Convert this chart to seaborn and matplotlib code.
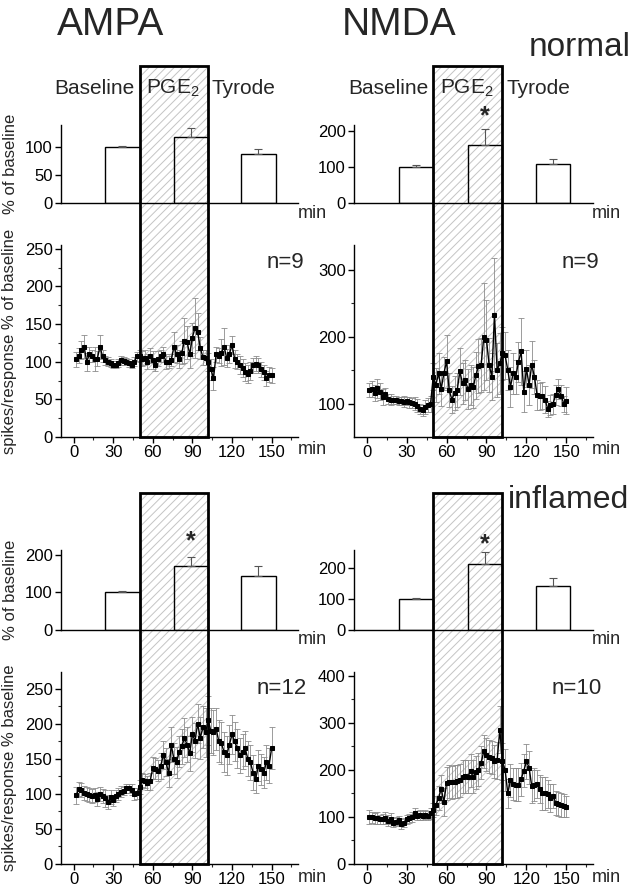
import numpy as np
import seaborn as sns
import matplotlib
matplotlib.use("Agg")
import matplotlib.pyplot as plt
from matplotlib.patches import Rectangle

# ---- data ----
# time series: one point every 2 min, starting at 2 min
ampa_normal = [103, 108, 115, 120, 100, 110, 108, 103, 104, 120, 107, 102, 100, 98, 96, 96, 98, 102, 101, 100,
               98, 96, 100, 107, 108, 104, 105, 100, 108, 102, 96, 104, 108, 110, 100, 100, 102, 120, 110, 103,
               112, 128, 126, 110, 132, 145, 140, 118, 106, 105, 100, 90, 78, 110, 108, 112, 120, 105, 110, 122,
               104, 100, 96, 92, 86, 84, 88, 95, 97, 95, 90, 86, 78, 83, 82]
ampa_normal_err = [10, 10, 12, 15, 12, 10, 8, 16, 10, 16, 8, 6, 6, 5, 5, 5, 5, 6, 5, 5,
                   5, 5, 6, 6, 8, 10, 10, 10, 10, 12, 8, 10, 8, 10, 10, 8, 8, 20, 12, 12,
                   15, 30, 22, 18, 20, 40, 25, 15, 10, 10, 12, 14, 15, 10, 10, 18, 25, 12, 12, 12,
                   12, 10, 12, 12, 12, 12, 12, 10, 10, 10, 10, 10, 10, 10, 10]

nmda_normal = [120, 122, 116, 123, 118, 110, 115, 107, 106, 105, 105, 104, 104, 103, 104, 102, 101, 100, 97, 92,
               90, 95, 98, 100, 140, 128, 145, 122, 145, 163, 120, 106, 116, 120, 148, 130, 135, 122, 128, 124,
               142, 156, 158, 200, 195, 158, 140, 233, 150, 160, 175, 172, 150, 125, 145, 140, 162, 178, 118, 152,
               128, 158, 140, 113, 111, 112, 106, 92, 98, 100, 113, 122, 112, 100, 104]
nmda_normal_err = [10, 12, 12, 14, 12, 12, 8, 8, 8, 6, 6, 6, 6, 8, 6, 8, 8, 10, 10, 8,
                   8, 10, 10, 12, 20, 25, 30, 25, 25, 40, 25, 20, 25, 25, 35, 30, 30, 30, 30, 30,
                   35, 40, 40, 80, 60, 40, 35, 85, 40, 45, 40, 35, 30, 30, 30, 25, 30, 50, 30, 28,
                   30, 35, 25, 22, 20, 20, 20, 12, 15, 15, 15, 15, 15, 12, 20]

ampa_inflamed = [98, 107, 106, 101, 100, 98, 97, 99, 93, 100, 97, 94, 88, 95, 91, 97, 100, 103, 104, 108,
                 108, 106, 100, 101, 110, 120, 118, 115, 118, 137, 136, 133, 140, 155, 145, 130, 170, 150, 145, 160,
                 168, 180, 170, 158, 185, 176, 200, 180, 195, 188, 205, 190, 188, 193, 175, 172, 160, 155, 170, 185,
                 175, 165, 155, 160, 165, 150, 145, 130, 122, 140, 135, 130, 145, 140, 165]
ampa_inflamed_err = [12, 10, 10, 10, 10, 10, 10, 10, 10, 10, 10, 12, 10, 10, 8, 8, 8, 8, 6, 6,
                     6, 8, 8, 8, 10, 10, 10, 10, 12, 15, 15, 15, 18, 20, 20, 20, 25, 22, 22, 22,
                     25, 28, 25, 25, 25, 25, 28, 30, 30, 35, 35, 32, 32, 30, 30, 30, 28, 28, 28, 28,
                     28, 28, 25, 25, 25, 25, 25, 25, 20, 22, 22, 22, 25, 25, 30]

nmda_inflamed = [100, 99, 97, 98, 95, 96, 98, 92, 96, 88, 90, 93, 85, 88, 95, 97, 100, 108, 103, 104,
                 103, 105, 103, 108, 115, 125, 140, 160, 132, 172, 175, 174, 175, 176, 178, 185, 186, 185, 198, 185,
                 195, 200, 215, 240, 232, 228, 226, 218, 220, 285, 218, 200, 150, 178, 170, 168, 168, 180, 198, 218,
                 205, 165, 168, 170, 160, 150, 150, 148, 140, 145, 130, 128, 125, 124, 122]
nmda_inflamed_err = [15, 12, 12, 12, 10, 10, 12, 12, 12, 10, 10, 10, 10, 10, 10, 10, 10, 10, 10, 10,
                     10, 10, 10, 12, 15, 20, 25, 30, 30, 35, 35, 35, 35, 35, 35, 35, 35, 35, 35, 35,
                     35, 35, 35, 35, 35, 35, 35, 35, 40, 50, 40, 45, 30, 35, 35, 35, 35, 35, 35, 38,
                     35, 35, 35, 30, 30, 35, 35, 30, 30, 25, 25, 25, 25, 25, 22]

# summary bars: baseline / PGE2 / Tyrode, placed on the time axis (min)
bar_pos = [37, 89, 140]
ampa_normal_bars = [100, 118, 88]
ampa_normal_bars_err = [3, 17, 9]
nmda_normal_bars = [100, 160, 108]
nmda_normal_bars_err = [5, 45, 15]
ampa_inflamed_bars = [100, 170, 145]
ampa_inflamed_bars_err = [5, 25, 25]
nmda_inflamed_bars = [100, 215, 143]
nmda_inflamed_bars_err = [5, 40, 25]

pge_start, pge_end = 50, 102
time_ticks = [0, 30, 60, 90, 120, 150]

sns.set_theme(style="ticks")
plt.rcParams["font.family"] = ["Liberation Sans", "DejaVu Sans"]
plt.rcParams["mathtext.default"] = "regular"
plt.rcParams["hatch.linewidth"] = 0.7

W, H = 632, 886
fig = plt.figure(figsize=(W / 100, H / 100), dpi=100)
fig.patch.set_facecolor("white")


def px_axes(x0, y0, x1, y1):
    ax = fig.add_axes([x0 / W, 1 - y1 / H, (x1 - x0) / W, (y1 - y0) / H])
    ax.set_facecolor("none")
    sns.despine(ax=ax)
    for s in ["left", "bottom"]:
        ax.spines[s].set_linewidth(1.0)
        ax.spines[s].set_color("black")
    ax.tick_params(direction="out", length=4, width=1, labelsize=12, pad=2, colors="black")
    ax.tick_params(which="minor", direction="out", length=2.5, width=0.8)
    return ax


def ftext(x, y, s, **kw):
    fig.text(x / W, 1 - y / H, s, **kw)


def bar_panel(ax, vals, errs, ymax, yticks, star_y=None):
    sns.barplot(x=bar_pos, y=vals, native_scale=True, width=26 / 51, fill=False,
                color="black", linewidth=1, errorbar=None, ax=ax)
    ax.errorbar(bar_pos, vals, yerr=[np.zeros(len(errs)), errs], fmt="none",
                ecolor="#555555", elinewidth=0.8, capsize=3, capthick=0.8)
    ax.set_xlim(-9.5, 170)
    ax.set_ylim(0, ymax)
    ax.set_yticks(yticks)
    ax.set_xticks([])
    ax.set_xlabel("")
    ax.set_ylabel("")
    if star_y is not None:
        ax.text(bar_pos[1], star_y, "*", ha="center", va="center", fontsize=18,
                fontweight="bold", clip_on=False)


def ts_panel(ax, vals, errs, ylim, yticks, minor):
    t = np.arange(2, 2 * len(vals) + 1, 2)
    ax.errorbar(t, vals, yerr=errs, fmt="none", ecolor="#8c8c8c", elinewidth=0.6,
                capsize=2, capthick=0.6, zorder=1)
    sns.lineplot(x=t, y=vals, color="black", linewidth=1, marker="s", markersize=3,
                 markeredgecolor="black", ax=ax, zorder=2)
    ax.set_xlim(-9.5, 170)
    ax.set_ylim(*ylim)
    ax.set_xticks(time_ticks)
    ax.set_xticks([15, 45, 75, 105, 135, 165], minor=True)
    ax.set_yticks(yticks)
    ax.set_yticks(minor, minor=True)


def pge_box(ax_ts, top_px):
    pts = ax_ts.transData.transform([(pge_start, 0), (pge_end, 0)])
    fx = fig.transFigure.inverted().transform(pts)[:, 0]
    y0 = ax_ts.get_position().y0
    y1 = 1 - top_px / H
    fig.add_artist(Rectangle((fx[0], y0), fx[1] - fx[0], y1 - y0, transform=fig.transFigure,
                             fill=False, hatch="////", edgecolor="#c4c4c4", linewidth=0, zorder=-1))
    fig.add_artist(Rectangle((fx[0], y0), fx[1] - fx[0], y1 - y0, transform=fig.transFigure,
                             fill=False, edgecolor="black", linewidth=2, zorder=5))
    return fx


cols = [(61, 298), (354, 593)]

# ---- normal ----
ax = px_axes(cols[0][0], 125, cols[0][1], 203)
bar_panel(ax, ampa_normal_bars, ampa_normal_bars_err, 140, [0, 50, 100])
ax = px_axes(cols[0][0], 245, cols[0][1], 437)
ts_panel(ax, ampa_normal, ampa_normal_err, (0, 255), range(0, 251, 50), range(25, 251, 50))
pge_box(ax, 66)

ax = px_axes(cols[1][0], 125, cols[1][1], 203)
bar_panel(ax, nmda_normal_bars, nmda_normal_bars_err, 217, [0, 100, 200], star_y=240)
ax = px_axes(cols[1][0], 245, cols[1][1], 437)
ts_panel(ax, nmda_normal, nmda_normal_err, (50, 337), [100, 200, 300], [150, 250])
pge_box(ax, 66)

# ---- inflamed ----
ax = px_axes(cols[0][0], 550, cols[0][1], 630)
bar_panel(ax, ampa_inflamed_bars, ampa_inflamed_bars_err, 213, [0, 100, 200], star_y=235)
ax = px_axes(cols[0][0], 672, cols[0][1], 864)
ts_panel(ax, ampa_inflamed, ampa_inflamed_err, (0, 274), range(0, 251, 50), range(25, 251, 50))
pge_box(ax, 493)

ax = px_axes(cols[1][0], 550, cols[1][1], 630)
bar_panel(ax, nmda_inflamed_bars, nmda_inflamed_bars_err, 260, [0, 100, 200], star_y=277)
ax = px_axes(cols[1][0], 672, cols[1][1], 864)
ts_panel(ax, nmda_inflamed, nmda_inflamed_err, (0, 408), range(0, 401, 100), range(50, 401, 100))
pge_box(ax, 493)

# ---- text ----
ftext(57, 25, "AMPA", fontsize=28, va="center", ha="left")
ftext(342, 25, "NMDA", fontsize=28, va="center", ha="left")
ftext(631, 47, "normal", fontsize=24, va="center", ha="right")
ftext(629, 500, "inflamed", fontsize=23, va="center", ha="right")

for xb in [173, 467]:
    ftext(xb - 38, 88, "Baseline", fontsize=15, va="center", ha="right")
    ftext(xb, 88, "PGE$_2$", fontsize=15, va="center", ha="center")
    ftext(xb + 39, 88, "Tyrode", fontsize=15, va="center", ha="left")

for yb, yt in [(213, 450), (640, 877)]:
    ftext(298, yb, "min", fontsize=13, va="center", ha="left")
    ftext(592, yb, "min", fontsize=13, va="center", ha="left")
    ftext(298, yt, "min", fontsize=13, va="center", ha="left")
    ftext(592, yt, "min", fontsize=13, va="center", ha="left")

ftext(11, 164, "% of baseline", fontsize=12, rotation=90, va="center", ha="center")
ftext(11, 590, "% of baseline", fontsize=12, rotation=90, va="center", ha="center")
ftext(10, 341, "spikes/response % of baseline", fontsize=12, rotation=90, va="center", ha="center")
ftext(10, 768, "spikes/response % baseline", fontsize=12, rotation=90, va="center", ha="center")

ftext(267, 262, "n=9", fontsize=16, va="center", ha="left")
ftext(562, 262, "n=9", fontsize=16, va="center", ha="left")
ftext(257, 689, "n=12", fontsize=16, va="center", ha="left")
ftext(552, 688, "n=10", fontsize=16, va="center", ha="left")

fig.savefig("out.png", dpi=100)
